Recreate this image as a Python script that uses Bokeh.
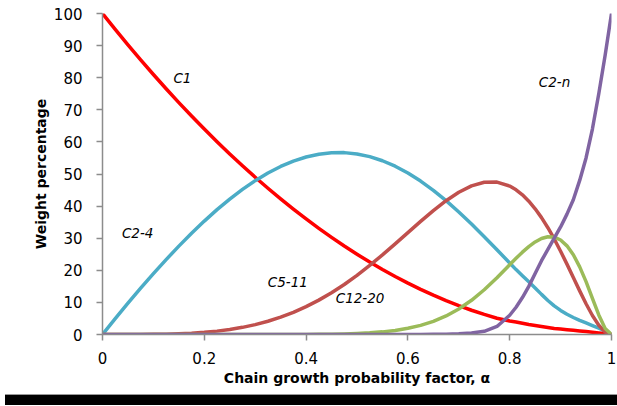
from bokeh.plotting import figure
from bokeh.models import Range1d, FixedTicker, ColumnDataSource, Div
from bokeh.layouts import column
from bokeh.core.properties import value
from bokeh.embed import file_html
from bokeh.resources import INLINE

# Chain growth probability factor (alpha)
alpha = [0, 0.025, 0.05, 0.075, 0.1, 0.125, 0.15, 0.175, 0.2, 0.225, 0.25,
         0.275, 0.3, 0.325, 0.35, 0.375, 0.4, 0.425, 0.45, 0.475, 0.5,
         0.525, 0.55, 0.575, 0.6, 0.625, 0.65, 0.675, 0.7, 0.725, 0.75,
         0.775, 0.8, 0.8125, 0.825, 0.8375, 0.85, 0.8625, 0.875, 0.8875,
         0.9, 0.9125, 0.925, 0.9375, 0.95, 0.9625, 0.975, 0.9875, 1.0]

# Weight percentages
c1 = [100, 95.06, 90.25, 85.56, 81.0, 76.56, 72.25, 68.06, 64.0, 60.06, 56.25,
      52.56, 49.0, 45.56, 42.25, 39.06, 36.0, 33.06, 30.25, 27.56, 25.0,
      22.56, 20.25, 18.06, 16.0, 14.06, 12.25, 10.56, 9.0, 7.56, 6.25,
      5.06, 4.2, 3.9, 3.5, 3.1, 2.8, 2.5, 2.2, 1.9,
      1.7, 1.5, 1.3, 1.1, 0.9, 0.7, 0.5, 0.3, 0.0]
c2_4 = [0, 4.94, 9.75, 14.42, 18.95, 23.33, 27.53, 31.53, 35.33, 38.89, 42.19,
        45.21, 47.92, 50.31, 52.35, 54.02, 55.30, 56.17, 56.63, 56.66, 56.25,
        55.41, 54.13, 52.42, 50.30, 47.79, 44.91, 41.69, 38.18, 34.42, 30.47,
        26.40, 22.27, 20.22, 18.3, 16.4, 14.5, 12.5, 10.6, 8.9,
        7.5, 6.3, 5.3, 4.4, 3.6, 2.8, 2.0, 1.1, 0.0]
c5_11 = [0, 0.0, 0.0, 0.01, 0.05, 0.11, 0.22, 0.40, 0.67, 1.05, 1.56,
         2.23, 3.08, 4.12, 5.39, 6.91, 8.67, 10.71, 13.01, 15.59, 18.43,
         21.51, 24.79, 28.23, 31.74, 35.23, 38.60, 41.68, 44.32, 46.31, 47.44,
         47.49, 46.24, 45.07, 43.51, 41.54, 39.17, 36.41, 33.26, 29.76,
         25.95, 21.92, 17.76, 13.59, 9.58, 5.93, 2.90, 0.80, 0.0]
c12_20 = [0, 0, 0, 0, 0, 0, 0, 0, 0, 0, 0,
          0, 0, 0, 0.01, 0.02, 0.03, 0.06, 0.11, 0.19, 0.32,
          0.52, 0.82, 1.27, 1.93, 2.84, 4.10, 5.77, 7.94, 10.66, 13.94,
          17.69, 21.72, 23.73, 25.65, 27.38, 28.84, 29.91, 30.45, 30.33,
          29.43, 27.62, 24.84, 21.08, 16.47, 11.29, 6.10, 1.85, 0.0]
c2_n = [0, 0, 0, 0, 0, 0, 0, 0, 0, 0, 0,
        0, 0, 0, 0, 0, 0, 0, 0, 0, 0,
        0, 0, 0, 0, 0, 0.05, 0.1, 0.2, 0.5, 1.0,
        2.5, 6.0, 8.5, 11.5, 15.0, 19.0, 23.0, 26.5, 30.0,
        33.5, 37.5, 42.0, 48.0, 55.0, 64.0, 75.0, 87.0, 100.0]

series_colors = ["#FF0000", "#4BACC6", "#C0504D", "#9BBB59", "#8064A2"]

# Series labels and where they sit (data coordinates)
label_text = ["C1", "C2-4", "C5-11", "C12-20", "C2-n"]
label_x = [0.157, 0.069, 0.364, 0.506, 0.888]
label_y = [79.8, 31.5, 16.2, 11.5, 78.8]

x_ticks = [0, 0.2, 0.4, 0.6, 0.8, 1.0]
x_tick_labels = ["0", "0.2", "0.4", "0.6", "0.8", "1"]
y_ticks = [0, 10, 20, 30, 40, 50, 60, 70, 80, 90, 100]

FONT = "DejaVu Sans"

p = figure(width=616, height=389, output_backend="svg", toolbar_location=None,
           x_range=Range1d(0, 1), y_range=Range1d(0, 100),
           min_border_left=102, min_border_right=5, min_border_top=13,
           min_border_bottom=55)
p.outline_line_color = None
p.grid.visible = False
p.background_fill_color = "white"
p.border_fill_color = "white"

src = ColumnDataSource(dict(a=alpha, c1=c1, c2_4=c2_4, c5_11=c5_11,
                            c12_20=c12_20, c2_n=c2_n))
for col, color in zip(["c1", "c2_4", "c5_11", "c12_20", "c2_n"], series_colors):
    p.line("a", col, source=src, line_color=color, line_width=3.5,
           line_join="round", line_cap="round")

lsrc = ColumnDataSource(dict(x=label_x, y=label_y, t=label_text))
p.text("x", "y", text="t", source=lsrc, text_font=value(FONT),
       text_font_size="13.5px", text_font_style="italic",
       text_align="center", text_baseline="middle", text_color="black")

p.xaxis.ticker = FixedTicker(ticks=x_ticks)
p.xaxis.major_label_overrides = {t: l for t, l in zip(x_ticks, x_tick_labels)}
p.yaxis.ticker = FixedTicker(ticks=y_ticks)

for ax in (p.xaxis, p.yaxis):
    ax.axis_line_color = "#8c8c8c"
    ax.axis_line_width = 1.5
    ax.major_tick_line_color = "#8c8c8c"
    ax.major_tick_line_width = 1.5
    ax.major_tick_out = 6
    ax.major_tick_in = 0
    ax.minor_tick_line_color = None
    ax.major_label_text_font = FONT
    ax.major_label_text_font_size = "15px"
    ax.major_label_text_color = "black"
    ax.axis_label_text_font = FONT
    ax.axis_label_text_font_size = "14px"
    ax.axis_label_text_font_style = "bold"
    ax.axis_label_text_color = "black"

p.xaxis.major_label_standoff = 11
p.yaxis.major_label_standoff = 14
p.xaxis.axis_label = "Chain growth probability factor, α"
p.yaxis.axis_label = "Weight percentage"
p.xaxis.axis_label_standoff = 3
p.yaxis.axis_label_standoff = 2

band = Div(text="", width=616, height=11,
           styles={"background-color": "black", "border-top": "1px solid #999"})

open("out.html", "w").write(file_html(column(p, band, spacing=0), INLINE))
